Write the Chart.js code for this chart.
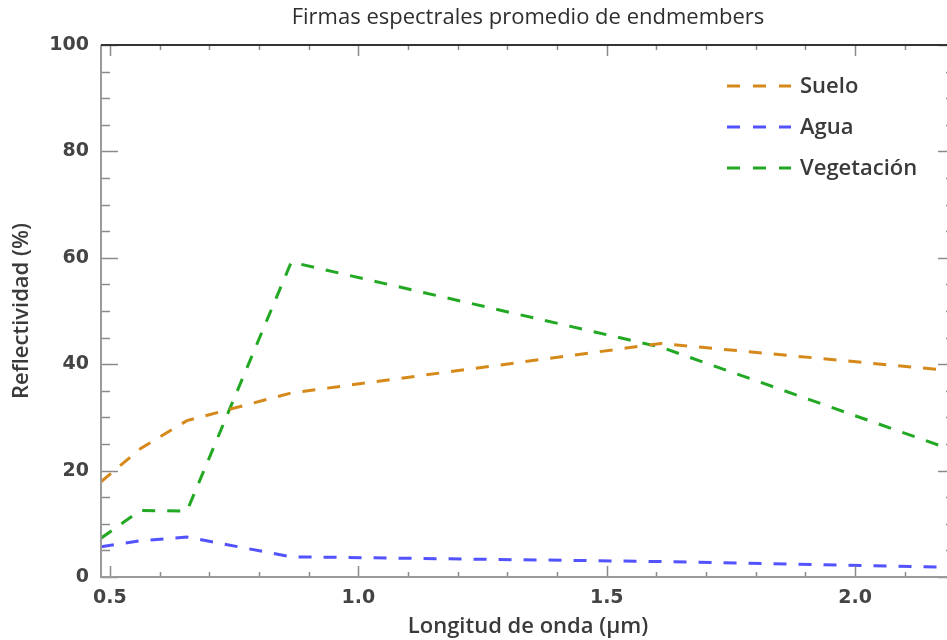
<!DOCTYPE html>
<html lang="es">
<head>
  <meta charset="UTF-8" />
  <title>Firmas espectrales</title>
  <script src="https://cdn.jsdelivr.net/npm/chart.js"></script>
  <style>
    body {
      margin: 0;
      background: white;
      overflow: hidden;
    }
    .wrap {
      width: 947px;
      height: 640px;
      overflow: hidden;
    }
  </style>
</head>
<body>
  <div class="wrap">
    <canvas id="chart" width="962" height="640"></canvas>
  </div>

  <script>
    // longitudes de onda centrales de las bandas (µm)
    const wavelengths = [0.482, 0.561, 0.655, 0.865, 1.609, 2.201];
    const suelo = [17.9, 24.1, 29.4, 34.6, 43.9, 38.7];
    const agua = [5.7, 6.8, 7.5, 3.8, 2.9, 1.8];
    const vegetacion = [7.3, 12.5, 12.4, 59.2, 43.2, 23.7];

    const xTicks = [0.5, 1.0, 1.5, 2.0];
    const yTicks = [0, 20, 40, 60, 80, 100];

    const FONT = "'Open Sans', 'DejaVu Sans', sans-serif";
    const TICKFONT = "'DejaVu Sans', sans-serif";
    const TEXT = '#3a3a3a';

    const toPoints = (vals) => wavelengths.map((w, i) => ({ x: w, y: vals[i] }));

    const serie = (label, vals, color) => ({
      label: label,
      data: toPoints(vals),
      borderColor: color,
      backgroundColor: color,
      borderWidth: 3,
      borderDash: [13, 12],
      pointRadius: 0,
      fill: false,
      tension: 0
    });

    // marco y marcas hacia dentro, mas la leyenda dentro del grafico
    const framePlugin = {
      id: 'frame',
      afterDraw(chart) {
        const ctx = chart.ctx;
        const { left, right, top, bottom } = chart.chartArea;
        const xs = chart.scales.x;
        const ys = chart.scales.y;
        ctx.save();

        ctx.lineWidth = 1.5;
        ctx.strokeStyle = '#8a8a8a';
        for (let v = 0; v <= 100; v += 5) {
          const y = Math.round(ys.getPixelForValue(v)) + 0.5;
          const len = v % 20 === 0 ? 17 : 9;
          ctx.beginPath();
          ctx.moveTo(left, y); ctx.lineTo(left + len, y);
          ctx.moveTo(right, y); ctx.lineTo(right - len, y);
          ctx.stroke();
        }
        for (let i = 5; i <= 22; i++) {
          const v = i / 10;
          if (v < xs.min || v > xs.max) continue;
          const x = Math.round(xs.getPixelForValue(v)) + 0.5;
          const len = i % 5 === 0 ? 11 : 5;
          ctx.beginPath();
          ctx.moveTo(x, bottom); ctx.lineTo(x, bottom - len);
          ctx.moveTo(x, top); ctx.lineTo(x, top + len);
          ctx.stroke();
        }

        ctx.lineWidth = 2;
        ctx.strokeStyle = '#9a9a9a';
        ctx.beginPath();
        ctx.moveTo(left, top); ctx.lineTo(left, bottom); ctx.lineTo(right, bottom);
        ctx.stroke();
        ctx.strokeStyle = '#333';
        ctx.beginPath();
        ctx.moveTo(left, top); ctx.lineTo(right, top); ctx.lineTo(right, bottom);
        ctx.stroke();

        // leyenda
        ctx.font = '600 22px ' + FONT;
        ctx.textBaseline = 'middle';
        chart.data.datasets.forEach((ds, i) => {
          const y = 86 + i * 41;
          ctx.strokeStyle = ds.borderColor;
          ctx.lineWidth = 3;
          ctx.setLineDash([13, 13]);
          ctx.beginPath();
          ctx.moveTo(727, y); ctx.lineTo(791, y);
          ctx.stroke();
          ctx.setLineDash([]);
          ctx.fillStyle = TEXT;
          ctx.fillText(ds.label, 800, y + 1);
        });
        ctx.restore();
      }
    };

    new Chart(document.getElementById('chart'), {
      type: 'line',
      data: {
        datasets: [
          serie('Suelo', suelo, '#d6891b'),
          serie('Agua', agua, '#5252ff'),
          serie('Vegetación', vegetacion, '#22a822')
        ]
      },
      options: {
        responsive: false,
        animation: false,
        layout: { padding: { left: 0, right: 7, top: 0, bottom: 0 } },
        plugins: {
          legend: { display: false },
          tooltip: { enabled: false },
          title: {
            display: true,
            text: 'Firmas espectrales promedio de endmembers',
            fullSize: false,
            color: '#2e2e2e',
            font: { family: FONT, size: 22, weight: 'normal', lineHeight: 1.2 },
            padding: { top: 5, bottom: 13.6 }
          }
        },
        scales: {
          x: {
            type: 'linear',
            min: wavelengths[0],
            max: wavelengths[wavelengths.length - 1],
            afterFit: (s) => { s.height = 63; },
            afterBuildTicks: (s) => { s.ticks = xTicks.map(v => ({ value: v })); },
            grid: { display: false, drawTicks: false },
            border: { display: false },
            ticks: {
              padding: 10,
              color: '#444',
              font: { family: TICKFONT, size: 19, weight: 'bold' },
              callback: (v) => v.toFixed(1)
            },
            title: {
              display: true,
              text: 'Longitud de onda (µm)',
              color: TEXT,
              font: { family: FONT, size: 22, weight: '600', lineHeight: 1.2 },
              padding: { top: 0, bottom: 0 }
            }
          },
          y: {
            min: 0,
            max: 100,
            afterFit: (s) => { s.width = 101; },
            afterBuildTicks: (s) => { s.ticks = yTicks.map(v => ({ value: v })); },
            grid: { display: false, drawTicks: false },
            border: { display: false },
            ticks: {
              padding: 12,
              color: '#444',
              font: { family: TICKFONT, size: 19, weight: 'bold' }
            },
            title: {
              display: true,
              text: 'Reflectividad (%)',
              color: TEXT,
              font: { family: FONT, size: 22, weight: '600', lineHeight: 1.2 },
              padding: { top: 9, bottom: 0 }
            }
          }
        }
      },
      plugins: [framePlugin]
    });
  </script>
</body>
</html>
